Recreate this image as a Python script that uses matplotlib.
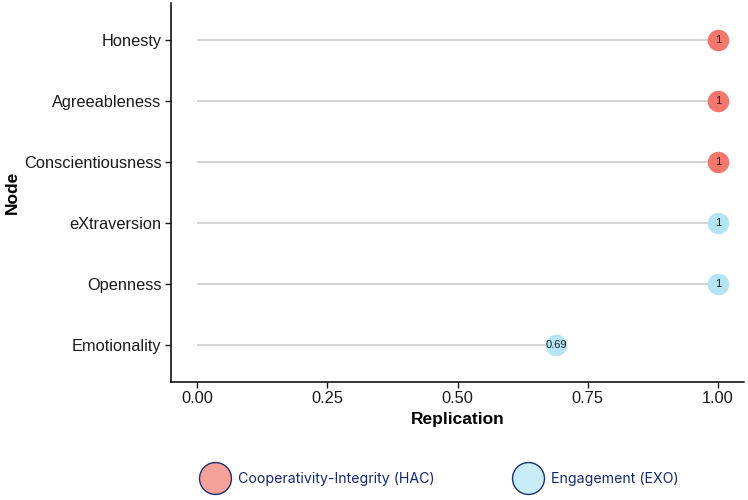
import matplotlib
matplotlib.use('Agg')
import matplotlib.pyplot as plt
from matplotlib.lines import Line2D

# данные
nodes = ['Emotionality', 'Openness', 'eXtraversion', 'Conscientiousness', 'Agreeableness', 'Honesty']
replication = [0.69, 1, 1, 1, 1, 1]
labels = ['0.69', '1', '1', '1', '1', '1']
groups = ['EXO', 'EXO', 'EXO', 'HAC', 'HAC', 'HAC']

group_colors = {'HAC': '#F4776E', 'EXO': '#B3E5F4'}
legend_colors = {'HAC': '#F6A199', 'EXO': '#C8EDF7'}
legend_names = {'HAC': 'Cooperativity-Integrity (HAC)', 'EXO': 'Engagement (EXO)'}

plt.rcParams['font.family'] = ['Liberation Sans', 'DejaVu Sans']

fig = plt.figure(figsize=(7.48, 5), dpi=100)
ax = fig.add_axes([0.2286, 0.2368, 0.7661, 0.7564])

ypos = list(range(1, len(nodes) + 1))
for y, v, lab, g in zip(ypos, replication, labels, groups):
    ax.plot([0, v], [y, y], color='#d3d3d3', lw=1.4, zorder=1, solid_capstyle='butt')
    ax.plot(v, y, 'o', ms=15.5, color=group_colors[g], mec='none', zorder=2)
    ax.text(v, y, lab, ha='center', va='center', fontsize=8, color='#222222', zorder=3)

ax.set_xlim(-0.05, 1.05)
ax.set_ylim(0.4, len(nodes) + 0.6)
ax.set_xticks([0, 0.25, 0.5, 0.75, 1.0])
ax.set_xticklabels(['0.00', '0.25', '0.50', '0.75', '1.00'])
ax.set_yticks(ypos)
ax.set_yticklabels(nodes)
ax.tick_params(axis='both', labelsize=11.8, colors='#1a1a1a', length=4, width=1, direction='out', pad=3)
for s in ['top', 'right']:
    ax.spines[s].set_visible(False)
for s in ['left', 'bottom']:
    ax.spines[s].set_linewidth(1.1)

ax.set_xlabel('Replication', fontsize=12.5, fontweight='bold', labelpad=4)
ax.set_ylabel('Node', fontsize=12.5, fontweight='bold', labelpad=3)

# легенда
handles = [Line2D([], [], ls='none', marker='o', ms=23, mfc=legend_colors[g],
                  mec='#1f2d6b', mew=1.0) for g in ['HAC', 'EXO']]
leg = fig.legend(handles, [legend_names[g] for g in ['HAC', 'EXO']],
                 loc='center', bbox_to_anchor=(0.59, 0.042), ncol=2, frameon=False,
                 prop={'family': ['Inter', 'DejaVu Sans'], 'size': 10.2},
                 handletextpad=0.9, columnspacing=5.8, handlelength=1.5)
for t in leg.get_texts():
    t.set_color('#17286b')

fig.savefig('out.png', dpi=100)
